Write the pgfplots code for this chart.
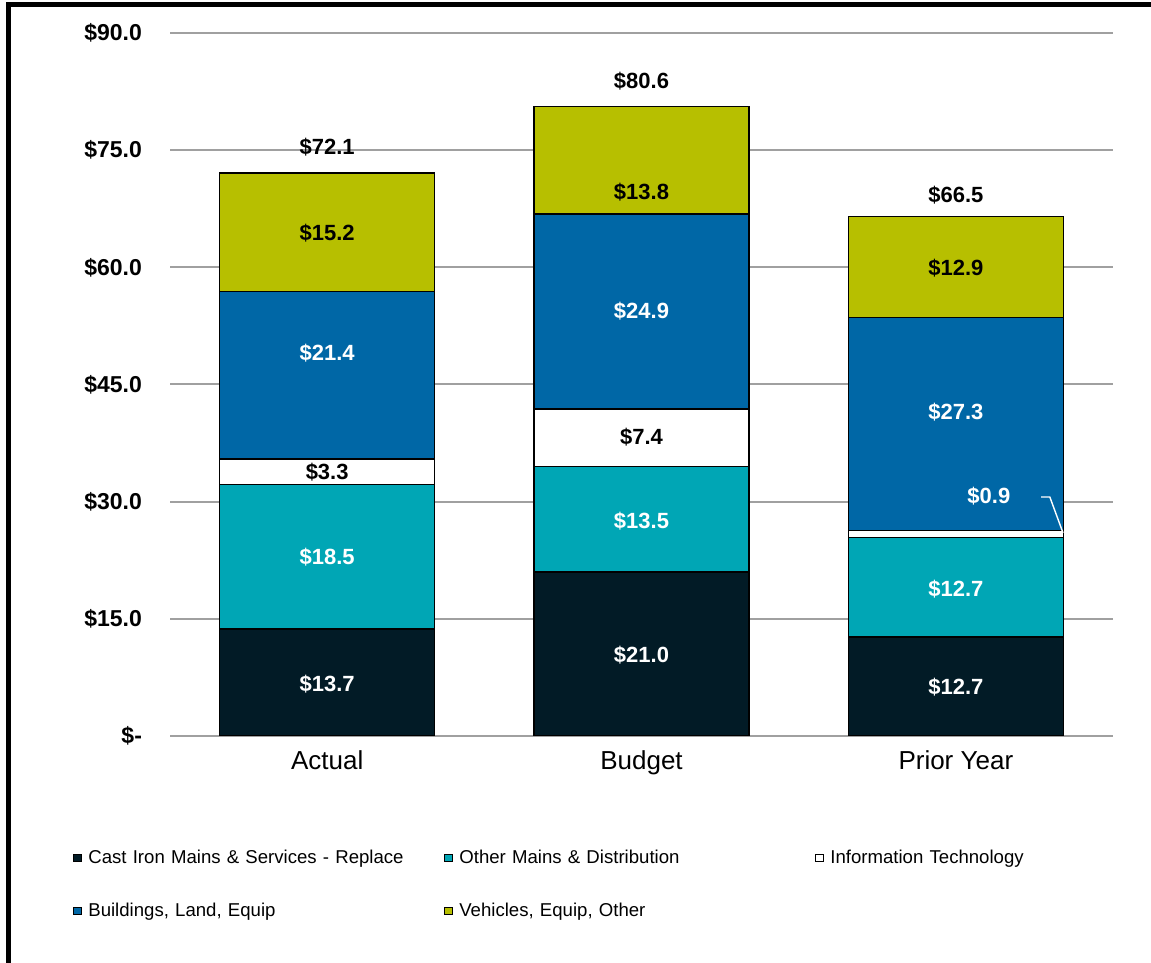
\documentclass[border=0pt]{standalone}
\usepackage{pgfplots}
\pgfplotsset{compat=1.18}
\usepackage{fontspec}
\setmainfont{Liberation Sans}

\definecolor{castiron}{RGB}{2,27,38}
\definecolor{othermains}{RGB}{0,166,181}
\definecolor{buildings}{RGB}{0,103,166}
\definecolor{vehicles}{RGB}{183,191,0}
\definecolor{gridgray}{RGB}{160,160,160}

\pgfplotsset{
  sqlegend/.style={legend image code/.code={
      \draw[##1,draw=black,line width=0.5pt] (0pt,-1.8pt) rectangle (3.6pt,1.8pt);}},
  barlabels/.style={only marks, mark=none, nodes near coords={\$\pgfplotspointmeta},
      point meta=explicit symbolic,
      every node near coord/.append style={anchor=center, text=#1,
        font=\fontsize{11}{13}\selectfont\bfseries}},
}

\begin{document}
\begin{tikzpicture}
\path[use as bounding box] (0,0) rectangle (575.5pt,481.5pt);
\draw[line width=2.5pt] (4.25pt,-2pt) -- (4.25pt,479.25pt) -- (578pt,479.25pt);

\begin{axis}[
    at={(85pt,113.5pt)}, anchor=south west,
    scale only axis, width=471.5pt, height=351.5pt,
    ybar stacked, bar width=107.5pt,
    xmin=-0.5, xmax=2.5, ymin=0, ymax=90,
    xtick={0,1,2}, xticklabels={Actual,Budget,Prior Year},
    ytick={0,15,30,45,60,75,90},
    yticklabels={\$-,\$15.0,\$30.0,\$45.0,\$60.0,\$75.0,\$90.0},
    ymajorgrids, grid style={draw=gridgray, line width=1pt},
    axis line style={draw=none}, major tick length=0pt,
    yticklabel style={font=\fontsize{11.5}{13}\selectfont\bfseries, xshift=-10.5pt},
    xticklabel style={font=\fontsize{13}{15}\selectfont, yshift=-4pt},
    legend cell align=left,
    legend columns=3,
    legend style={at={(-0.1029,-0.1616)}, anchor=north west, draw=none, fill=none,
      inner sep=0pt, font=\fontsize{9.3}{11}\selectfont, row sep=18.1pt,
      nodes={inner sep=0pt, text width=160pt, align=left},
      /tikz/every odd column/.append style={column sep=3.4pt},
      /tikz/every even column/.append style={column sep=18pt}},
  ]
  \addplot[fill=castiron, draw=black, line width=0.8pt, sqlegend]
    coordinates {(0,13.7) (1,21.0) (2,12.7)};
  \addlegendentry{Cast Iron Mains \& Services - Replace}
  \addplot[fill=othermains, draw=black, line width=0.8pt, sqlegend]
    coordinates {(0,18.5) (1,13.5) (2,12.7)};
  \addlegendentry{Other Mains \& Distribution}
  \addplot[fill=white, draw=black, line width=0.8pt, sqlegend]
    coordinates {(0,3.3) (1,7.4) (2,0.9)};
  \addlegendentry{Information Technology}
  \addplot[fill=buildings, draw=black, line width=0.8pt, sqlegend]
    coordinates {(0,21.4) (1,24.9) (2,27.3)};
  \addlegendentry{Buildings, Land, Equip}
  \addplot[fill=vehicles, draw=black, line width=0.8pt, sqlegend]
    coordinates {(0,15.2) (1,13.8) (2,12.9)};
  \addlegendentry{Vehicles, Equip, Other}
\end{axis}

% value labels, same frame as the bar axis
\begin{axis}[
    at={(85pt,113.5pt)}, anchor=south west,
    scale only axis, width=471.5pt, height=351.5pt,
    xmin=-0.5, xmax=2.5, ymin=0, ymax=90,
    hide axis, clip=false,
  ]
  \addplot[barlabels=white] table[meta=v] {
    x     y     v
    0     6.66  13.7
    0     22.92 18.5
    0     49.03 21.4
    1     10.37 21.0
    1     27.53 13.5
    1     54.41 24.9
    2     6.27  12.7
    2     18.82 12.7
    2     41.48 27.3
    2.105 30.73 0.9
  };
  \addplot[barlabels=black] table[meta=v] {
    x     y     v
    0     33.80 3.3
    0     64.40 15.2
    0     75.40 72.1
    1     38.28 7.4
    1     69.64 13.8
    1     83.86 80.6
    2     59.92 12.9
    2     69.26 66.5
  };
  \addplot[white, line width=0.7pt, mark=none]
    coordinates {(2.271,30.6) (2.299,30.6) (2.341,26.0)};
\end{axis}
\end{tikzpicture}
\end{document}
